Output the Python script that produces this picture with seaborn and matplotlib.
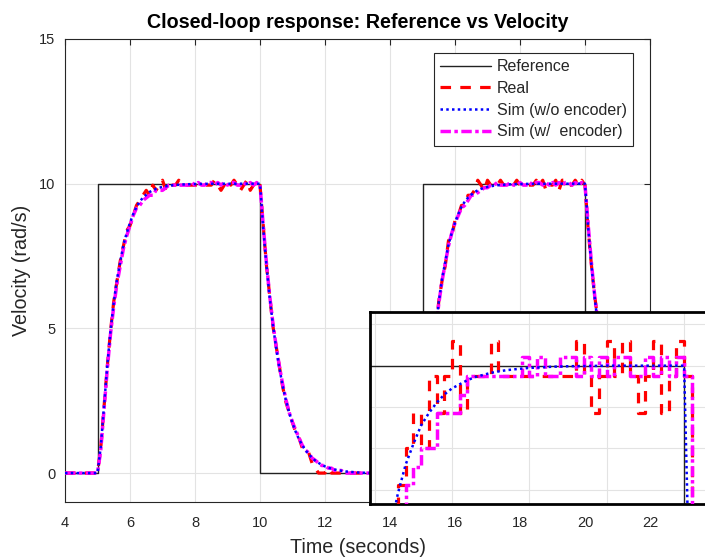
import numpy as np
import seaborn as sns
import matplotlib
import matplotlib.pyplot as plt

matplotlib.use("Agg")

# sample grid of the logged signals (s)
t_start = 4.0
dt = 0.1

# reference step signal
ref_time = [4, 5, 10, 15, 20, 22]
ref_vals = [0, 10, 0, 10, 0, 0]

# measured velocity (quantized encoder), rad/s
real_vals = [
    0, 0, 0, 0, 0, 0, 0, 0, 0, 0,
    0, 0.87, 2.27, 3.67, 4.89, 5.93, 6.63, 7.33, 7.85, 8.38,
    8.55, 8.9, 9.25, 9.42, 9.6, 9.77, 9.6, 9.95, 9.77, 9.95,
    10.12, 9.77, 9.95, 9.95, 9.95, 10.12, 9.95, 9.95, 9.95, 9.95,
    9.95, 9.95, 9.95, 9.95, 9.95, 9.95, 10.12, 9.95, 9.77, 9.95,
    10.12, 9.95, 10.12, 9.95, 9.77, 9.95, 10.12, 9.77, 9.95, 10.12,
    9.95, 8.55, 7.16, 6.11, 5.06, 4.36, 3.67, 2.97, 2.44, 2.09,
    1.75, 1.4, 1.22, 0.87, 0.87, 0.7, 0.35, 0.17, 0, 0,
    0, 0.17, 0, 0, 0, 0, 0, 0, 0, 0,
    0, 0, 0, 0, 0, 0, 0, 0, 0, 0,
    0, 0, 0, 0, 0, 0, 0, 0, 0, 0,
    0, 0.87, 2.27, 3.67, 4.71, 5.93, 6.63, 7.16, 8.03, 8.2,
    8.73, 8.9, 9.25, 9.25, 9.6, 9.6, 9.77, 10.12, 9.95, 9.77,
    10.12, 9.95, 9.95, 9.95, 10.12, 9.95, 9.95, 9.95, 9.95, 10.12,
    9.95, 9.95, 9.95, 9.95, 9.95, 10.12, 9.95, 10.12, 9.77, 9.95,
    9.95, 10.12, 9.77, 10.12, 10.12, 9.95, 9.95, 10.12, 9.95, 10.12,
    9.95, 8.38, 7.16, 6.11, 5.24, 4.19, 3.49, 3.14, 2.44, 2.09,
    1.57, 1.4, 1.22, 0.87, 0.7, 0.7, 0.52, 0.35, 0.17, 0.17,
    0,
]

# simulation without encoder model
sim_vals = [
    0, 0, 0, 0, 0, 0, 0, 0, 0, 0,
    0, 0.9, 2.3, 3.7, 4.9, 5.9, 6.7, 7.3, 7.9, 8.3,
    8.65, 8.95, 9.2, 9.38, 9.52, 9.62, 9.71, 9.77, 9.82, 9.86,
    9.89, 9.91, 9.93, 9.945, 9.955, 9.965, 9.972, 9.978, 9.982, 9.986,
    9.989, 9.991, 9.993, 9.995, 9.996, 9.997, 9.998, 9.998, 9.999, 9.999,
    10, 10, 10, 10, 10, 10, 10, 10, 10, 10,
    10, 8.45, 7.15, 6.05, 5.1, 4.3, 3.6, 3.0, 2.5, 2.08,
    1.72, 1.42, 1.17, 0.96, 0.79, 0.65, 0.53, 0.43, 0.35, 0.29,
    0.23, 0.19, 0.15, 0.12, 0.1, 0.08, 0.06, 0.05, 0.04, 0.03,
    0.02, 0.02, 0.01, 0.01, 0, 0, 0, 0, 0, 0,
    0, 0, 0, 0, 0, 0, 0, 0, 0, 0,
    0, 0.9, 2.3, 3.7, 4.9, 5.9, 6.7, 7.3, 7.9, 8.3,
    8.65, 8.95, 9.2, 9.38, 9.52, 9.62, 9.71, 9.77, 9.82, 9.86,
    9.89, 9.91, 9.93, 9.945, 9.955, 9.965, 9.972, 9.978, 9.982, 9.986,
    9.989, 9.991, 9.993, 9.995, 9.996, 9.997, 9.998, 9.998, 9.999, 9.999,
    10, 10, 10, 10, 10, 10, 10, 10, 10, 10,
    10, 8.45, 7.15, 6.05, 5.1, 4.3, 3.6, 3.0, 2.5, 2.08,
    1.72, 1.42, 1.17, 0.96, 0.79, 0.65, 0.53, 0.43, 0.35, 0.29,
    0.23,
]

# simulation with encoder model
sim_enc_vals = [
    0, 0, 0, 0, 0, 0, 0, 0, 0, 0,
    0, 0.79, 2.18, 3.58, 4.8, 5.76, 6.55, 7.16, 7.77, 8.2,
    8.55, 8.9, 9.16, 9.25, 9.42, 9.51, 9.6, 9.6, 9.77, 9.77,
    9.77, 9.86, 9.95, 9.95, 9.95, 9.95, 9.95, 9.95, 9.95, 10.04,
    9.95, 10.04, 9.95, 9.95, 10.04, 10.04, 9.95, 10.04, 9.95, 10.04,
    9.95, 10.04, 10.04, 9.95, 9.95, 10.04, 9.95, 10.04, 9.95, 10.04,
    9.95, 8.55, 7.24, 6.11, 5.15, 4.36, 3.67, 3.05, 2.53, 2.09,
    1.75, 1.48, 1.22, 0.96, 0.79, 0.7, 0.52, 0.44, 0.35, 0.26,
    0.26, 0.17, 0.17, 0.09, 0.09, 0.09, 0, 0, 0, 0,
    0, 0, 0, 0, 0, 0, 0, 0, 0, 0,
    0, 0, 0, 0, 0, 0, 0, 0, 0, 0,
    0, 0.87, 2.27, 3.67, 4.8, 5.85, 6.63, 7.24, 7.85, 8.29,
    8.64, 8.9, 9.16, 9.25, 9.42, 9.6, 9.6, 9.69, 9.77, 9.86,
    9.86, 9.95, 9.95, 10.04, 9.95, 9.95, 9.95, 10.04, 9.95, 9.95,
    10.04, 9.95, 9.95, 10.04, 9.95, 10.04, 10.04, 9.95, 10.04, 9.95,
    10.04, 9.95, 10.04, 9.95, 10.04, 10.04, 9.95, 10.04, 9.95, 10.04,
    9.95, 8.55, 7.24, 6.11, 5.15, 4.36, 3.67, 3.05, 2.53, 2.09,
    1.75, 1.48, 1.22, 0.96, 0.79, 0.7, 0.52, 0.44, 0.35, 0.26,
    0.26,
]

t = np.round(t_start + dt * np.arange(len(sim_vals)), 2)

sns.set_theme(style="white")
plt.rcParams["font.family"] = ["Liberation Sans", "DejaVu Sans"]

GRID = "#e3e3e3"
DARK = "#262626"

styles = {
    "Reference": dict(color="#222222", lw=1.0, ls="-"),
    "Real": dict(color="#ff0000", lw=2.3, ls=(0, (3.3, 2.9))),
    "Sim (w/o encoder)": dict(color="#0000ff", lw=1.8, ls=(0, (1, 1.3))),
    "Sim (w/  encoder)": dict(color="#ff00ff", lw=2.5, ls=(0, (3.0, 1.0, 1.0, 1.0))),
}


def draw_lines(ax, with_labels, stairs):
    # in the zoomed inset the quantized signals are shown as held steps
    lab = (lambda s: s) if with_labels else (lambda s: None)
    ds = "steps-post" if stairs else "default"
    sns.lineplot(x=ref_time, y=ref_vals, ax=ax, drawstyle="steps-post",
                 label=lab("Reference"), zorder=2, **styles["Reference"])
    sns.lineplot(x=t, y=real_vals, ax=ax, drawstyle=ds,
                 label=lab("Real"), zorder=3, **styles["Real"])
    sns.lineplot(x=t, y=sim_enc_vals, ax=ax, drawstyle=ds,
                 label=lab("Sim (w/  encoder)"), zorder=4, **styles["Sim (w/  encoder)"])
    sns.lineplot(x=t, y=sim_vals, ax=ax,
                 label=lab("Sim (w/o encoder)"), zorder=5, **styles["Sim (w/o encoder)"])


fig = plt.figure(figsize=(7.05, 5.58), dpi=100)
ax = fig.add_axes([65 / 705, (558 - 502) / 558, 585 / 705, 463 / 558])
draw_lines(ax, True, False)

ax.set_xlim(4, 22)
ax.set_ylim(-1, 15)
ax.set_xticks(range(4, 23, 2))
ax.set_yticks([0, 5, 10, 15])
ax.grid(True, color=GRID, lw=0.8)
ax.tick_params(direction="in", length=4, width=0.8, top=True, right=True,
               labelsize=10.5, colors=DARK, labelcolor=DARK)
ax.tick_params(axis="x", pad=10)
ax.tick_params(axis="y", pad=7)
for sp in ax.spines.values():
    sp.set_color(DARK)
    sp.set_linewidth(0.8)
ax.set_title("Closed-loop response: Reference vs Velocity", fontsize=14.2,
             fontweight="bold", color="black", pad=8)
ax.set_xlabel("Time (seconds)", fontsize=14.2, color=DARK, labelpad=6)
ax.set_ylabel("Velocity (rad/s)", fontsize=14.2, color=DARK, labelpad=6)

h, l = ax.get_legend_handles_labels()
order = ["Reference", "Real", "Sim (w/o encoder)", "Sim (w/  encoder)"]
hd = dict(zip(l, h))
leg = ax.legend([hd[k] for k in order], order, loc="upper right",
                bbox_to_anchor=(0.971, 0.970), borderaxespad=0, fontsize=11.5,
                frameon=True, fancybox=False, framealpha=1, edgecolor=DARK,
                handlelength=3.2, handletextpad=0.35, labelspacing=0.42,
                borderpad=0.4)
leg.get_frame().set_linewidth(0.8)
for txt in leg.get_texts():
    txt.set_color(DARK)

# zoomed inset of the first pulse plateau
axi = fig.add_axes([370 / 705, (558 - 504) / 558, 352 / 705, 192 / 558])
axi.set_facecolor("white")
draw_lines(axi, False, True)
axi.set_xlim(5.94, 10.49)
axi.set_ylim(9.33, 10.26)
axi.set_xticks([6, 7, 8, 9, 10])
axi.set_yticks([9.4, 9.6, 9.8, 10.0, 10.2])
axi.set_xticklabels([])
axi.set_yticklabels([])
axi.set_xlabel("")
axi.set_ylabel("")
axi.tick_params(length=0)
axi.grid(True, color=GRID, lw=0.8)
for sp in axi.spines.values():
    sp.set_color("black")
    sp.set_linewidth(2.0)

fig.savefig("out.png", dpi=100)
